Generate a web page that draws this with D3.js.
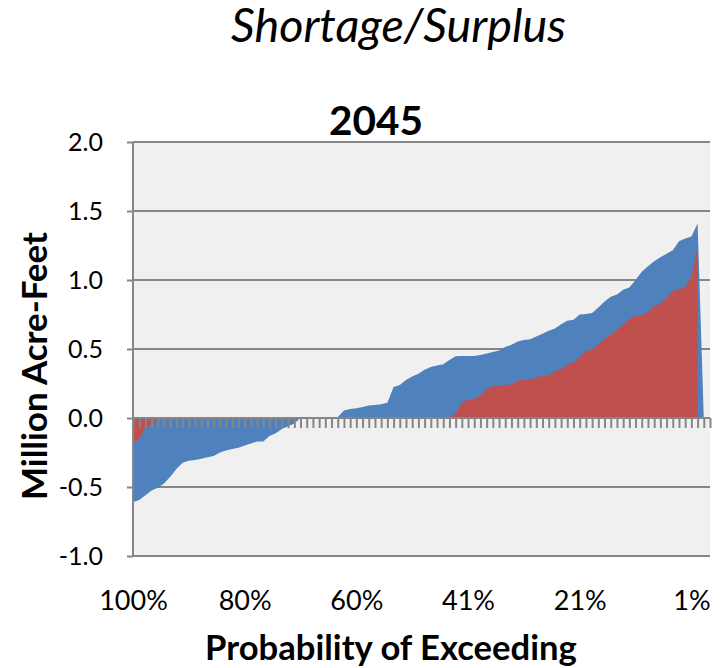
<!DOCTYPE html>
<html>
<head>
<meta charset="utf-8">
<script src="https://cdn.jsdelivr.net/npm/d3@7"></script>
<style>
  html, body { margin: 0; padding: 0; background: #ffffff; }
  svg text { font-family: Lato, "Open Sans", sans-serif; fill: #000; }
</style>
</head>
<body>
<svg id="chart" width="720" height="668"></svg>
<script>
// ---- data ----
const categories = d3.range(94); // category index along the exceedance axis
const tickIndexes = [0, 18, 36, 54, 72, 90];
const tickLabels = ["100%", "80%", "60%", "41%", "21%", "1%"];
const yTicks = [-1.0, -0.5, 0.0, 0.5, 1.0, 1.5, 2.0];
const yTickLabels = ["-1.0", "-0.5", "0.0", "0.5", "1.0", "1.5", "2.0"];

const blueSeries = [
  -0.61, -0.595, -0.56, -0.525, -0.505, -0.475, -0.425, -0.37, -0.325, -0.31,
  -0.305, -0.295, -0.285, -0.275, -0.25, -0.235, -0.225, -0.215, -0.20, -0.185,
  -0.17, -0.17, -0.13, -0.11, -0.08, -0.06, -0.04, 0, 0, 0,
  0, 0, 0, 0.005, 0.055, 0.065, 0.07, 0.08, 0.09, 0.095,
  0.10, 0.11, 0.225, 0.24, 0.275, 0.30, 0.32, 0.35, 0.37, 0.38,
  0.39, 0.42, 0.448, 0.449, 0.449, 0.45, 0.457, 0.467, 0.478, 0.49,
  0.515, 0.53, 0.555, 0.565, 0.57, 0.59, 0.61, 0.632, 0.648, 0.68,
  0.705, 0.712, 0.75, 0.754, 0.76, 0.80, 0.845, 0.878, 0.895, 0.93,
  0.945, 1.0, 1.06, 1.10, 1.135, 1.165, 1.19, 1.215, 1.28, 1.30,
  1.315, 1.41, 0, null
];

const redSeries = [
  -0.18, -0.15, -0.07, -0.05, 0, 0, 0, 0, 0, 0,
  0, 0, 0, 0, 0, 0, 0, 0, 0, 0,
  0, 0, 0, 0, 0, 0, 0, 0, 0, 0,
  0, 0, 0, 0, 0, 0, 0, 0, 0, 0,
  0, 0, 0, 0, 0, 0, 0, 0, 0, 0,
  0, 0.005, 0.03, 0.11, 0.13, 0.14, 0.165, 0.21, 0.23, 0.238,
  0.24, 0.243, 0.27, 0.278, 0.283, 0.29, 0.305, 0.307, 0.34, 0.35,
  0.39, 0.40, 0.44, 0.485, 0.495, 0.535, 0.575, 0.605, 0.635, 0.68,
  0.715, 0.74, 0.746, 0.765, 0.81, 0.828, 0.87, 0.92, 0.935, 0.947,
  1.02, 1.24, null, null
];

// ---- layout ----
const svg = d3.select("#chart");
const L = 133, R = 710, T = 142, B = 556;

const x = d3.scalePoint().domain(categories).range([L, R]);
const y = d3.scaleLinear().domain([-1, 2]).range([B, T]);

const gridColor = "#868686";

// plot background
svg.append("rect").attr("x", L).attr("y", T).attr("width", R - L).attr("height", B - T)
  .attr("fill", "#f0f0f0");

// gridlines
svg.append("g").selectAll("line").data(yTicks).join("line")
  .attr("x1", L).attr("x2", R)
  .attr("y1", d => y(d)).attr("y2", d => y(d))
  .attr("stroke", gridColor).attr("stroke-width", 2);

// areas
function areaFor(series) {
  return d3.area()
    .defined((d, i) => series[i] !== null)
    .x((d, i) => x(categories[i]))
    .y0(y(0))
    .y1((d, i) => y(series[i]));
}
svg.append("path").datum(blueSeries).attr("d", areaFor(blueSeries)).attr("fill", "#4f81bd");
svg.append("path").datum(redSeries).attr("d", areaFor(redSeries)).attr("fill", "#c0504d");

// category axis on zero line with tick marks
const xAxisZero = svg.append("g").attr("transform", `translate(0,${y(0)})`)
  .call(d3.axisBottom(x).tickSize(10).tickFormat(""));
xAxisZero.select(".domain").attr("stroke", gridColor).attr("stroke-width", 2)
  .attr("d", `M${L},0H${R}`);
xAxisZero.selectAll(".tick line").attr("stroke", gridColor).attr("stroke-width", 2);

// category labels at bottom
const xLab = svg.append("g").attr("transform", `translate(0,${B})`)
  .call(d3.axisBottom(x).tickValues(tickIndexes).tickSize(0)
    .tickFormat(d => tickLabels[tickIndexes.indexOf(d)]));
xLab.select(".domain").remove();
xLab.selectAll("text").attr("font-size", 27).attr("dy", 0).attr("y", 54)
  .style("font-family", "Lato, sans-serif");

// y axis
const yAx = svg.append("g").attr("transform", `translate(${L},0)`)
  .call(d3.axisLeft(y).tickValues(yTicks).tickSize(6).tickPadding(24)
    .tickFormat(d => yTickLabels[yTicks.indexOf(d)]));
yAx.select(".domain").attr("stroke", gridColor).attr("stroke-width", 2).attr("d", `M0,${T}V${B}`);
yAx.selectAll(".tick line").attr("stroke", gridColor).attr("stroke-width", 2);
yAx.selectAll("text").attr("font-size", 25).style("font-family", "Lato, sans-serif");

// fit text width helper
function fit(sel, w) {
  const cur = sel.node().getComputedTextLength();
  const fs = parseFloat(sel.attr("font-size"));
  sel.attr("font-size", fs * w / cur);
}

// titles
const t1 = svg.append("text").attr("x", 398.5).attr("y", 42).attr("text-anchor", "middle")
  .attr("font-size", 36).attr("font-style", "italic").text("Shortage/Surplus");
fit(t1, 335);

const t2 = svg.append("text").attr("x", 376).attr("y", 135).attr("text-anchor", "middle")
  .attr("font-size", 40).attr("font-weight", "bold").text("2045");
fit(t2, 94);

const xt = svg.append("text").attr("x", 391).attr("y", 660).attr("text-anchor", "middle")
  .attr("font-size", 32).attr("font-weight", "bold").text("Probability of Exceeding");
fit(xt, 372);

const yt = svg.append("text").attr("transform", "translate(47,366) rotate(-90)")
  .attr("text-anchor", "middle").attr("font-size", 32).attr("font-weight", "bold")
  .text("Million Acre-Feet");
fit(yt, 268);
</script>
</body>
</html>
